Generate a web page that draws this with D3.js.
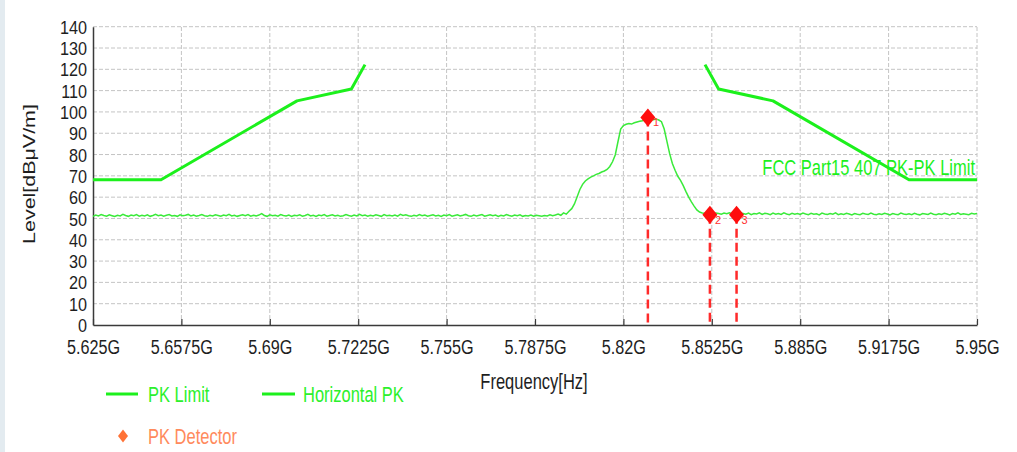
<!DOCTYPE html>
<html>
<head>
<meta charset="utf-8">
<script src="https://cdn.jsdelivr.net/npm/d3@7"></script>
<style>
  html, body { margin: 0; padding: 0; background: #ffffff; }
  svg { display: block; }
  text { font-family: "Liberation Sans", Arial, sans-serif; }
</style>
</head>
<body>
<svg id="chart" width="1017" height="452"></svg>
<script>
// Frequency axis ticks (GHz) and their printed labels
const xTicks = [5.625, 5.6575, 5.69, 5.7225, 5.755, 5.7875, 5.82, 5.8525, 5.885, 5.9175, 5.95];
const xTickLabels = ["5.625G", "5.6575G", "5.69G", "5.7225G", "5.755G", "5.7875G", "5.82G", "5.8525G", "5.885G", "5.9175G", "5.95G"];
const yTicks = [0, 10, 20, 30, 40, 50, 60, 70, 80, 90, 100, 110, 120, 130, 140];

// FCC Part 15.407 peak limit, lower and upper band edges (GHz, dBuV/m)
const limitLowFreq = [5.625, 5.650, 5.700, 5.720, 5.725];
const limitLowLevel = [68.2, 68.2, 105.2, 110.8, 122.2];
const limitHighFreq = [5.850, 5.855, 5.875, 5.925, 5.950];
const limitHighLevel = [122.2, 110.8, 105.2, 68.2, 68.2];

// Horizontal PK sweep: 5.625 GHz to 5.950 GHz, one reading every 1 MHz
const sweepStart = 5.625;
const sweepStep = 0.001;
const horizontalPK = [
  51.0, 51.6, 51.2, 51.8, 51.4, 51.1, 51.7, 51.3, 50.9, 51.5,
  51.2, 51.9, 51.4, 51.0, 51.6, 51.3, 51.8, 51.1, 51.5, 51.2,
  51.7, 51.0, 51.4, 51.9, 51.3, 51.6, 51.1, 51.5, 51.8, 51.2,
  51.4, 51.0, 51.7, 51.3, 51.5, 51.9, 51.2, 51.6, 51.1, 51.4,
  51.8, 51.3, 51.0, 51.5, 51.2, 51.7, 51.4, 51.1, 51.6, 51.3,
  51.9, 51.2, 51.5, 51.0, 51.4, 51.7, 51.3, 51.8, 51.1, 51.5,
  51.2, 51.6, 52.3, 51.4, 51.0, 51.7, 51.3, 51.5, 51.1, 51.8,
  51.4, 51.2, 51.6, 51.0, 51.5, 51.3, 51.7, 51.1, 51.4, 51.9,
  51.2, 51.5, 51.0, 51.6, 51.3, 51.8, 51.1, 51.4, 51.7, 51.2,
  51.5, 51.0, 51.3, 51.8, 51.4, 51.1, 51.6, 51.2, 51.9, 51.3,
  51.6, 51.1, 51.5, 51.2, 51.7, 51.4, 51.0, 51.8, 51.3, 51.5,
  51.2, 51.6, 51.1, 51.9, 51.4, 51.7, 51.3, 51.0, 51.5, 51.2,
  51.8, 51.3, 51.6, 51.1, 51.4, 51.7, 51.2, 51.5, 51.0, 51.6,
  51.3, 51.8, 51.1, 51.4, 51.7, 51.2, 51.5, 51.9, 51.3, 51.0,
  51.6, 51.2, 51.5, 51.8, 51.1, 51.4, 51.7, 51.3, 51.6, 51.0,
  51.5, 51.2, 51.8, 51.4, 51.1, 51.6, 51.3, 51.7, 51.0, 51.4,
  51.2, 51.6, 51.1, 51.5, 51.3, 51.0, 51.4, 51.2, 51.7, 51.3,
  51.6, 52.1, 51.5, 52.6, 52.0, 53.4, 54.6, 56.8, 60.2, 63.6,
  66.0, 67.6, 68.6, 69.4, 70.0, 70.7, 71.1, 71.8, 72.3, 73.0,
  74.4, 76.6, 79.8, 86.0, 92.0, 93.6, 94.2, 94.6, 94.3, 94.9,
  95.3, 95.6, 95.9, 96.3, 97.4, 96.8, 96.3, 96.7, 96.2, 95.4,
  92.0, 86.2, 80.4, 75.8, 72.6, 69.8, 67.9, 65.4, 62.6, 60.0,
  57.8, 55.8, 54.0, 53.0, 52.6, 52.4, 52.2, 52.0, 52.1, 52.6,
  52.3, 52.0, 52.5, 52.2, 52.7, 52.1, 52.4, 52.0, 52.6, 52.3,
  52.0, 52.5, 51.8, 52.3, 52.1, 52.6, 51.9, 52.4, 52.2, 51.8,
  52.5, 52.0, 52.3, 51.9, 52.6, 52.1, 51.8, 52.4, 52.0, 52.3,
  51.9, 52.5, 52.1, 51.8, 52.4, 52.0, 52.2, 51.7, 52.5, 52.1,
  51.9, 52.3, 52.0, 52.6, 51.8, 52.2, 51.9, 52.4, 52.1, 51.7,
  52.3, 52.0, 51.8, 52.4, 52.1, 51.9, 52.5, 52.0, 51.8, 52.2,
  51.9, 52.4, 52.1, 51.7, 52.3, 52.0, 51.8, 52.5, 52.1, 51.9,
  52.2, 51.8, 52.4, 52.0, 51.7, 52.3, 52.1, 51.9, 52.5, 52.0,
  51.8, 52.2, 51.9, 52.4, 52.1, 51.7, 52.3, 52.0, 52.6, 51.9,
  52.2, 52.0, 51.8, 52.4, 52.1, 52.3
];

// PK detector markers
const markerIds = ["1", "2", "3"];
const markerFreq = [5.8290, 5.8518, 5.8616];
const markerLevel = [97.4, 51.8, 51.8];

const svg = d3.select("#chart");
const W = 1017, H = 452;

// thin page strip at the left edge
svg.append("rect").attr("x", 0).attr("y", 0).attr("width", 5).attr("height", H).attr("fill", "#e3ebf0");

const x = d3.scaleLinear().domain([5.625, 5.95]).range([93, 977]);
const y = d3.scaleLinear().domain([0, 140]).range([325, 26.7]);

const SX = 0.75;  // narrow label face
const FS = 22;
const txtCol = "#1e1e1e";

// grid
const grid = svg.append("g");
grid.selectAll("line.h").data(yTicks.filter(d => d > 0)).enter().append("line")
  .attr("x1", x(5.625)).attr("x2", x(5.95))
  .attr("y1", d => y(d)).attr("y2", d => y(d))
  .attr("stroke", "#c4c4c4").attr("stroke-width", 1).attr("stroke-dasharray", "4,2");
grid.selectAll("line.v").data(xTicks.slice(1)).enter().append("line")
  .attr("x1", d => x(d)).attr("x2", d => x(d))
  .attr("y1", y(0)).attr("y2", y(140))
  .attr("stroke", "#c4c4c4").attr("stroke-width", 1).attr("stroke-dasharray", "4,2");

// axes
const xAxis = svg.append("g").attr("transform", `translate(0,${y(0)})`)
  .call(d3.axisBottom(x).tickValues(xTicks).tickFormat((d, i) => xTickLabels[i]).tickSize(-6).tickSizeOuter(0));
xAxis.select(".domain").attr("stroke", "#3a3a3a").attr("stroke-width", 1.5);
xAxis.selectAll(".tick line").attr("stroke", "#3a3a3a").attr("stroke-width", 1.2);
xAxis.selectAll(".tick text")
  .attr("y", null).attr("dy", null)
  .attr("transform", `translate(0,29) scale(0.81,1)`)
  .attr("font-size", 20).attr("fill", txtCol)
  .attr("font-family", "Liberation Sans, Arial, sans-serif");

const yAxis = svg.append("g").attr("transform", `translate(${x(5.625)},0)`)
  .call(d3.axisLeft(y).tickValues(yTicks).tickSize(0).tickSizeOuter(0));
yAxis.select(".domain").attr("stroke", "#3a3a3a").attr("stroke-width", 1.5);
yAxis.selectAll(".tick text")
  .attr("x", null).attr("dy", null)
  .attr("transform", `translate(-6,6.6) scale(0.9,1)`)
  .attr("font-size", 18).attr("fill", txtCol)
  .attr("font-family", "Liberation Sans, Arial, sans-serif");

// axis titles
svg.append("text").text("Frequency[Hz]")
  .attr("transform", `translate(534,389) scale(${SX},1)`)
  .attr("text-anchor", "middle").attr("font-size", FS).attr("fill", txtCol);
svg.append("text").text("Level[dBμV/m]")
  .attr("transform", `translate(29,174) rotate(-90) scale(1.3,1)`)
  .attr("text-anchor", "middle").attr("dominant-baseline", "central")
  .attr("font-size", 16.5).attr("fill", txtCol);

const limitColor = "#1cf01c";
const traceColor = "#3aea3a";

// limit lines
const limitLine = d3.line().x(d => x(d[0])).y(d => y(d[1]));
[[limitLowFreq, limitLowLevel], [limitHighFreq, limitHighLevel]].forEach(([fs, ls]) => {
  svg.append("path")
    .attr("d", limitLine(fs.map((f, i) => [f, ls[i]])))
    .attr("fill", "none").attr("stroke", limitColor).attr("stroke-width", 3)
    .attr("stroke-linejoin", "round");
});

// measured trace
const trace = horizontalPK.map((v, i) => [sweepStart + i * sweepStep, v]);
svg.append("path")
  .attr("d", d3.line().x(d => x(d[0])).y(d => y(d[1]))(trace))
  .attr("fill", "none").attr("stroke", traceColor).attr("stroke-width", 1.5);

// limit caption
svg.append("text").text("FCC Part15 407 PK-PK Limit")
  .attr("transform", `translate(975,175) scale(${SX},1)`)
  .attr("text-anchor", "end").attr("font-size", FS).attr("fill", limitColor);

// marker drop lines and diamonds
const mk = svg.append("g");
markerFreq.forEach((f, i) => {
  mk.append("line")
    .attr("x1", x(f)).attr("x2", x(f))
    .attr("y1", y(markerLevel[i])).attr("y2", y(0))
    .attr("stroke", "#ff2a2a").attr("stroke-width", 2.5).attr("stroke-dasharray", "9,5");
});
markerFreq.forEach((f, i) => {
  const cx = x(f), cy = y(markerLevel[i]);
  mk.append("path")
    .attr("d", `M${cx},${cy - 9}L${cx + 7.5},${cy}L${cx},${cy + 9}L${cx - 7.5},${cy}Z`)
    .attr("fill", "#ff0d0d");
  mk.append("text").text(markerIds[i])
    .attr("x", cx + 5).attr("y", cy + 9)
    .attr("font-size", 11).attr("fill", "#ff3030");
});

// legend
const lg = svg.append("g");
lg.append("line").attr("x1", 106).attr("x2", 138).attr("y1", 394).attr("y2", 394)
  .attr("stroke", limitColor).attr("stroke-width", 3);
lg.append("text").text("PK Limit")
  .attr("transform", `translate(148,402) scale(${SX},1)`)
  .attr("font-size", FS).attr("fill", "#2cf02c");
lg.append("line").attr("x1", 262).attr("x2", 295).attr("y1", 394).attr("y2", 394)
  .attr("stroke", limitColor).attr("stroke-width", 3);
lg.append("text").text("Horizontal PK")
  .attr("transform", `translate(303,402) scale(${SX},1)`)
  .attr("font-size", FS).attr("fill", "#2cf02c");
lg.append("path")
  .attr("d", "M123,429.5L128,436L123,442.5L118,436Z")
  .attr("fill", "#ff7236");
lg.append("text").text("PK Detector")
  .attr("transform", `translate(148,444) scale(${SX},1)`)
  .attr("font-size", FS).attr("fill", "#ff8a5c");
</script>
</body>
</html>
